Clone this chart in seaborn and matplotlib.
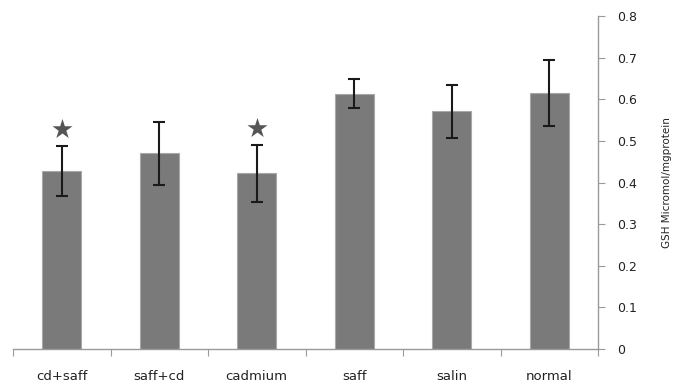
import pandas as pd
import numpy as np
import matplotlib
matplotlib.use('Agg')
import matplotlib.pyplot as plt
import seaborn as sns

# Data
groups = ['cd+saff', 'saff+cd', 'cadmium', 'saff', 'salin', 'normal']
gsh_mean = [0.428, 0.470, 0.422, 0.613, 0.571, 0.615]
gsh_err = [0.060, 0.075, 0.068, 0.035, 0.063, 0.079]
significant = [True, False, True, False, False, False]

df = pd.DataFrame({'group': groups, 'gsh': gsh_mean})

sns.set_style('white')
plt.rcParams['font.family'] = ['DejaVu Sans']

fig = plt.figure(figsize=(6.75, 3.89), dpi=100)
ax = fig.add_axes([13 / 675, 40 / 389, 585 / 675, 333 / 389])

sns.barplot(data=df, x='group', y='gsh', color='#7a7a7a', saturation=1,
            width=0.4, edgecolor='#a8a8a8', linewidth=0.8, ax=ax)

# Error bars
ax.errorbar(np.arange(len(groups)), gsh_mean, yerr=gsh_err, fmt='none',
            ecolor='#1a1a1a', elinewidth=1.5, capsize=4, capthick=1.5)

# Significance stars above the error bars
sig_x = [i for i, s in enumerate(significant) if s]
sig_y = [gsh_mean[i] + gsh_err[i] + 0.04 for i in sig_x]
ax.scatter(sig_x, sig_y, marker='*', s=230, color='#555555', zorder=5, linewidths=0)

ax.set_xlim(-0.5, len(groups) - 0.5)
ax.set_ylim(0, 0.8)
ax.set_yticks(np.arange(0, 0.81, 0.1))
ax.set_yticklabels(['0'] + ['%.1f' % v for v in np.arange(0.1, 0.81, 0.1)])

# Right-hand y axis
ax.yaxis.tick_right()
ax.yaxis.set_label_position('right')
ax.set_ylabel('GSH Micromol/mgprotein', fontsize=7.5, color='#222222', labelpad=18)
ax.set_xlabel('')

for side in ['top', 'left']:
    ax.spines[side].set_visible(False)
for side in ['right', 'bottom']:
    ax.spines[side].set_color('#9a9a9a')
    ax.spines[side].set_linewidth(1.0)

# x ticks at category boundaries, labels at centres
ax.set_xticks(np.arange(-0.5, len(groups), 1.0))
ax.set_xticklabels([])
ax.set_xticks(np.arange(len(groups)), minor=True)
ax.set_xticklabels(groups, minor=True, fontsize=9.5, color='#222222')
ax.tick_params(axis='x', which='major', direction='out', length=5, color='#9a9a9a', bottom=True)
ax.tick_params(axis='x', which='minor', length=0, pad=15)
ax.tick_params(axis='y', direction='out', length=5, color='#9a9a9a', right=True,
               labelsize=9, labelcolor='#222222', pad=9)

fig.savefig('out.png', dpi=100)
